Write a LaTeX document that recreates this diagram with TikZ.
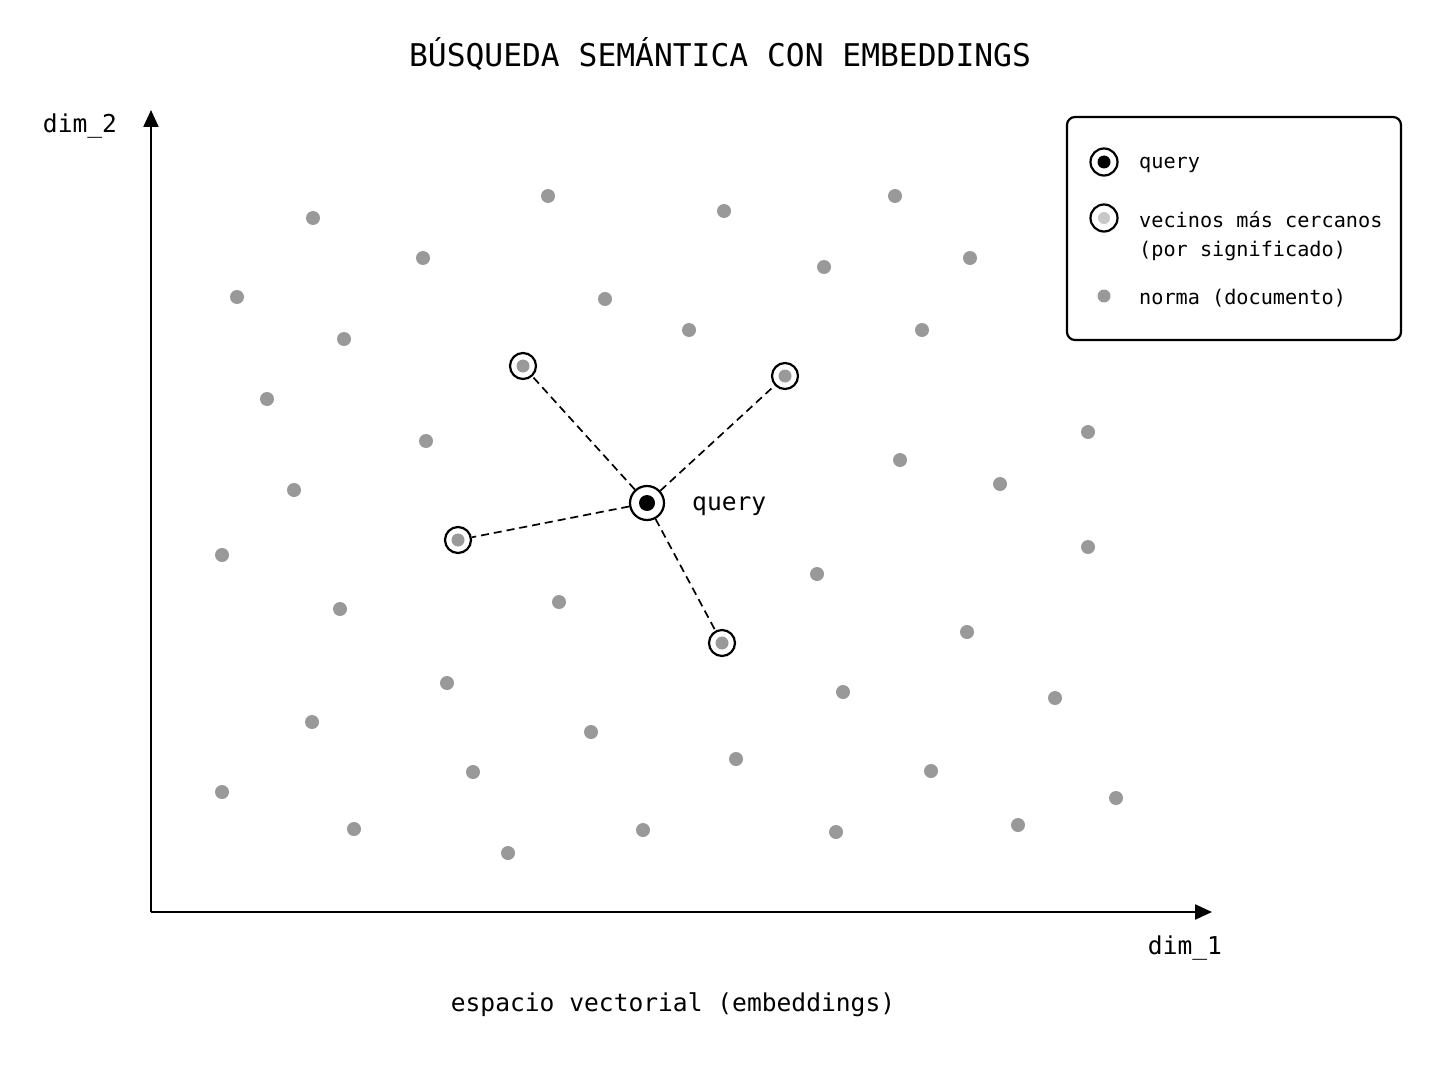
\documentclass[tikz,border=0pt]{standalone}
\usepackage{fontspec}
\setmonofont{DejaVu Sans Mono}
\usetikzlibrary{arrows.meta}
\definecolor{dotgray}{HTML}{999999}
\definecolor{lightdot}{HTML}{C8C8C8}
\begin{document}
\begin{tikzpicture}[x=1pt,y=-1pt,
  docdot/.style={circle,fill=dotgray,inner sep=0pt,minimum size=14pt},
  nbring/.style={circle,draw=black,line width=2.2pt,fill=white,inner sep=0pt,minimum size=26pt},
  qring/.style={circle,draw=black,line width=2.2pt,fill=white,inner sep=0pt,minimum size=34pt},
  link/.style={line width=1.7pt,dash pattern=on 8pt off 5pt},
  axis/.style={line width=2.3pt,-{Triangle[length=17pt,width=15pt]}},
  lbl/.style={font=\ttfamily\fontsize{24.6}{28}\selectfont,inner sep=0pt},
  leg/.style={font=\ttfamily\fontsize{20.2}{24}\selectfont,inner sep=0pt,anchor=west}]
\useasboundingbox (0,0) rectangle (1448,1086);
\fill[white] (0,0) rectangle (1448,1086);
% title
\node[font=\ttfamily\fontsize{31.3}{34}\selectfont,inner sep=0pt] (title) at (720,54) {BÚSQUEDA SEMÁNTICA CON EMBEDDINGS};
% axes
\coordinate (o) at (151,912);
\coordinate (ytop) at (151,110);
\coordinate (xend) at (1212,912);
\draw[axis] (o) -- (ytop);
\draw[axis] (o) -- (xend);
\node[lbl] (dimtwo) at (80,126) {dim\_2};
\node[lbl] (dimone) at (1185,948) {dim\_1};
\node[lbl] (caption) at (673,1005) {espacio vectorial (embeddings)};
% document dots
\foreach \x/\y [count=\i] in {313/218,548/196,724/211,895/196,423/258,824/267,970/258,237/297,605/299,344/339,689/330,922/330,267/399,426/441,1088/432,900/460,294/490,1000/484,222/555,1088/547,817/574,340/609,559/602,967/632,447/683,843/692,1055/698,312/722,591/732,736/759,473/772,931/771,222/792,1116/798,354/829,643/830,836/832,1018/825,508/853}
  \node[docdot] (d\i) at (\x,\y) {};
% neighbours
\foreach \x/\y [count=\i] in {523/366,785/376,458/540,722/643}{
  \node[nbring] (n\i) at (\x,\y) {};
  \node[docdot,minimum size=13pt] (nd\i) at (n\i.center) {};
}
% query
\node[qring] (q) at (647,503) {};
\node[circle,fill=black,inner sep=0pt,minimum size=16pt] (qd) at (q.center) {};
\node[lbl,anchor=west] (qlabel) at (692,506) {query};
\foreach \i in {1,...,4}
  \draw[link] (q) -- (n\i);
% legend
\node[draw=black,line width=2.2pt,rounded corners=8pt,minimum width=334pt,minimum height=223pt,inner sep=0pt] (legend) at (1234,228.5) {};
\node[circle,draw=black,line width=2.2pt,inner sep=0pt,minimum size=27pt] (lq) at (1104,162) {};
\node[circle,fill=black,inner sep=0pt,minimum size=13pt] (lqd) at (lq.center) {};
\node[leg] (lqt) at (1139,165) {query};
\node[circle,draw=black,line width=2.2pt,inner sep=0pt,minimum size=27pt] (ln) at (1104,218) {};
\node[circle,fill=lightdot,inner sep=0pt,minimum size=12pt] (lnd) at (ln.center) {};
\node[leg] (lnt) at (1139,220) {vecinos más cercanos};
\node[leg] (lnt2) at (1139,251) {(por significado)};
\node[docdot,minimum size=13pt] (ld) at (1104,296) {};
\node[leg] (ldt) at (1139,298) {norma (documento)};
\end{tikzpicture}
\end{document}
